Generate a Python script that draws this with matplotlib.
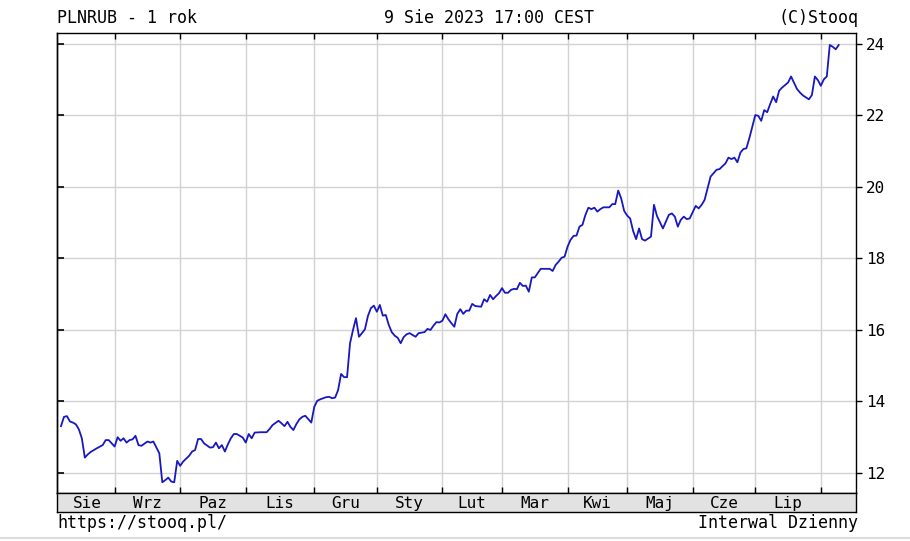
import matplotlib
matplotlib.use("Agg")
import matplotlib.pyplot as plt
from matplotlib.lines import Line2D

plt.rcParams['font.family'] = ['DejaVu Sans Mono', 'DejaVu Sans']

# trading-day index and PLN/RUB close
day = [0, 1, 2, 3, 4, 5, 6, 7, 8, 9, 10, 11, 12, 14, 15, 16, 18, 19, 20, 21,
       22, 23, 24, 25, 26, 27, 29, 30, 31, 33, 34, 35, 36, 37, 38, 39, 40, 41, 43, 44,
       45, 46, 47, 48, 50, 51, 52, 53, 54, 55, 56, 57, 58, 59, 61, 62, 63, 64, 65, 67,
       69, 70, 71, 73, 74, 75, 76, 77, 78, 79, 80, 81, 82, 84, 85, 86, 87, 88, 89, 90,
       91, 92, 93, 94, 95, 96, 97, 98, 99, 100, 101, 102, 103, 104, 105, 106, 107, 108, 109, 110,
       111, 112, 113, 114, 115, 116, 117, 118, 119, 120, 122, 123, 124, 125, 126, 127, 128, 129, 130, 131,
       132, 133, 134, 135, 136, 137, 138, 139, 141, 142, 143, 144, 145, 146, 147, 148, 149, 150, 151, 152,
       153, 154, 155, 156, 157, 158, 159, 160, 161, 162, 164, 165, 166, 167, 168, 169, 170, 171, 172, 173,
       174, 175, 176, 177, 178, 179, 180, 181, 182, 184, 185, 186, 187, 188, 189, 190, 191, 192, 193, 194,
       195, 196, 198, 199, 200, 202, 203, 204, 205, 206, 207, 208, 209, 210, 211, 213, 214, 215, 216, 217,
       218, 220, 221, 223, 224, 225, 226, 227, 228, 229, 230, 231, 233, 234, 235, 236, 237, 238, 239, 240,
       241, 242, 243, 244, 245, 247, 248, 249, 251, 252, 253, 254, 255, 256, 257, 258, 259, 260, 261]
rate = [13.31, 13.57, 13.59, 13.44, 13.41, 13.36, 13.22, 12.97, 12.43, 12.52, 12.59, 12.64, 12.69, 12.78, 12.92, 12.92, 12.74, 13.00, 12.90, 12.97,
        12.85, 12.92, 12.94, 13.04, 12.78, 12.76, 12.88, 12.85, 12.88, 12.55, 11.74, 11.80, 11.87, 11.76, 11.74, 12.34, 12.20, 12.32, 12.48, 12.60,
        12.64, 12.95, 12.95, 12.83, 12.71, 12.72, 12.85, 12.69, 12.78, 12.60, 12.80, 12.97, 13.09, 13.09, 12.99, 12.85, 13.09, 12.97, 13.13, 13.14,
        13.14, 13.23, 13.34, 13.46, 13.39, 13.31, 13.43, 13.29, 13.20, 13.37, 13.50, 13.57, 13.60, 13.41, 13.85, 14.02, 14.06, 14.09, 14.12, 14.13,
        14.09, 14.11, 14.32, 14.77, 14.68, 14.68, 15.63, 16.00, 16.33, 15.81, 15.91, 16.02, 16.39, 16.61, 16.68, 16.51, 16.70, 16.40, 16.42, 16.14,
        15.94, 15.84, 15.78, 15.63, 15.80, 15.88, 15.91, 15.86, 15.81, 15.91, 15.94, 16.03, 16.00, 16.12, 16.22, 16.21, 16.26, 16.44, 16.30, 16.19,
        16.09, 16.45, 16.58, 16.45, 16.54, 16.54, 16.73, 16.67, 16.65, 16.86, 16.79, 16.98, 16.86, 16.95, 17.03, 17.17, 17.04, 17.04, 17.12, 17.15,
        17.14, 17.32, 17.23, 17.24, 17.07, 17.47, 17.47, 17.59, 17.71, 17.71, 17.71, 17.65, 17.82, 17.91, 18.02, 18.05, 18.33, 18.52, 18.63, 18.64,
        18.89, 18.94, 19.22, 19.42, 19.38, 19.42, 19.31, 19.38, 19.43, 19.43, 19.52, 19.52, 19.90, 19.68, 19.33, 19.20, 19.12, 18.77, 18.54, 18.84,
        18.54, 18.50, 18.61, 19.50, 19.19, 18.84, 19.03, 19.22, 19.26, 19.17, 18.89, 19.08, 19.17, 19.10, 19.12, 19.47, 19.40, 19.50, 19.64, 19.96,
        20.29, 20.48, 20.50, 20.66, 20.82, 20.78, 20.82, 20.69, 20.96, 21.06, 21.08, 21.36, 22.01, 21.99, 21.85, 22.15, 22.09, 22.32, 22.53, 22.37,
        22.69, 22.78, 22.85, 22.92, 23.09, 22.74, 22.64, 22.56, 22.45, 22.57, 23.09, 22.99, 22.83, 23.01, 23.09, 23.97, 23.92, 23.85, 23.97]

month_start = [18, 40, 62, 85, 106, 128, 148, 170, 190, 212, 233, 255]
month_labels = ['Sie', 'Wrz', 'Paz', 'Lis', 'Gru', 'Sty', 'Lut', 'Mar', 'Kwi', 'Maj', 'Cze', 'Lip']
y_ticks = [12, 14, 16, 18, 20, 22, 24]

title_left = 'PLNRUB - 1 rok'
title_mid = '9 Sie 2023 17:00 CEST'
title_right = '(C)Stooq'
foot_left = 'https://stooq.pl/'
foot_right = 'Interwal Dzienny'

W, H = 910, 541
fig = plt.figure(figsize=(W / 100, H / 100), dpi=100)
fig.patch.set_facecolor('white')

L, R, T, B = 57, 856, 32.5, 493
ax = fig.add_axes([L / W, 1 - B / H, (R - L) / W, (B - T) / H])
ax.plot(day, rate, color='#1818c0', lw=1.3, solid_joinstyle='round', zorder=3)
xlim = (-1.34, 266.8)
ax.set_xlim(*xlim)
ax.set_ylim(11.44, 24.32)
ax.set_xticks(month_start)
ax.set_xticklabels([])
ax.set_yticks(y_ticks)
ax.grid(True, color='#d2d2d2', lw=1.0)
ax.set_axisbelow(True)
ax.tick_params(axis='x', direction='in', top=True, bottom=True, length=4, width=1, color='black')
ax.yaxis.tick_right()
ax.tick_params(axis='y', direction='out', length=4, width=1, right=True, left=False,
               labelright=True, labelleft=False, labelsize=11.5, pad=3)
for s in ax.spines.values():
    s.set_color('black')
    s.set_linewidth(1.0)
sec = ax.secondary_yaxis('left')
sec.set_yticks(y_ticks)
sec.tick_params(direction='in', length=5, width=1.2, color='black', labelleft=False)
sec.spines['left'].set_linewidth(1.0)
sec.set_zorder(5)

# month strip
S_B = 512
sax = fig.add_axes([L / W, 1 - S_B / H, (R - L) / W, (S_B - B) / H])
sax.set_facecolor('#e2e2e2')
sax.set_xlim(*xlim)
sax.set_ylim(0, 1)
sax.set_xticks([])
sax.set_yticks([])
for s in sax.spines.values():
    s.set_color('black')
    s.set_linewidth(1.0)
bounds = [0] + month_start
for i, lab in enumerate(month_labels):
    sax.text((bounds[i] + bounds[i + 1]) / 2, 0.45, lab, ha='center', va='center', fontsize=11.5)

fs = 12
fig.text(L / W, 1 - 18 / H, title_left, ha='left', va='center', fontsize=fs)
fig.text(384 / W, 1 - 18 / H, title_mid, ha='left', va='center', fontsize=fs)
fig.text(858 / W, 1 - 18 / H, title_right, ha='right', va='center', fontsize=fs)
fig.text(L / W, 1 - 523 / H, foot_left, ha='left', va='center', fontsize=fs)
fig.text(858 / W, 1 - 523 / H, foot_right, ha='right', va='center', fontsize=fs)

fig.add_artist(Line2D([0, 1], [1 - 537.5 / H, 1 - 537.5 / H], transform=fig.transFigure,
                      color='#dddddd', lw=1.5))

fig.savefig('out.png', dpi=100)
